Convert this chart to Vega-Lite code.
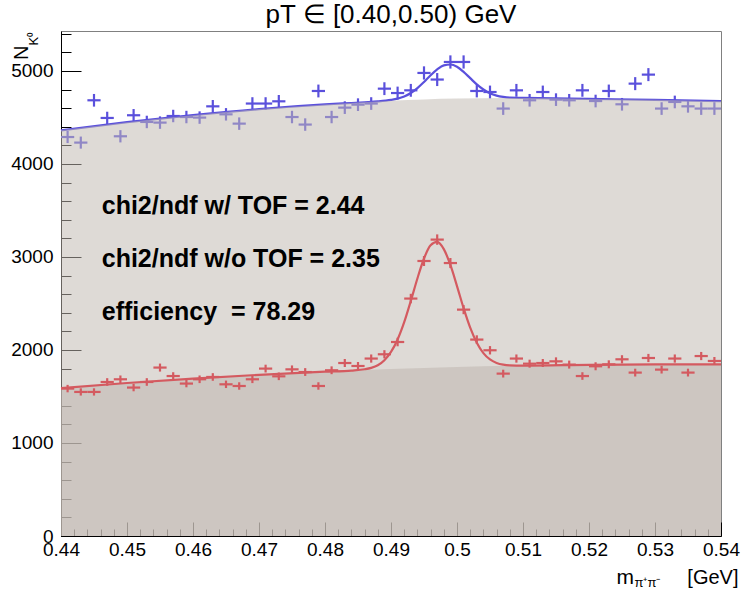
{
  "$schema": "https://vega.github.io/schema/vega-lite/v6.json",
  "width": 660,
  "height": 505,
  "autosize": {"type": "none"},
  "padding": {"left": 61, "top": 31, "right": 20, "bottom": 56},
  "title": {"text": "pT ∈ [0.40,0.50) GeV", "fontSize": 26, "font": "Liberation Sans", "fontWeight": "normal", "anchor": "middle", "baseline": "alphabetic", "offset": 4, "dy": 22, "color": "black"},
  "config": {
    "view": {"stroke": "#808080", "strokeWidth": 1},
    "axis": {"labelFont": "Liberation Sans", "labelFontSize": 19, "labelColor": "black", "tickColor": "black", "domainColor": "black", "grid": false, "titleFont": "Liberation Sans", "titleFontWeight": "normal", "titleColor": "black", "zindex": 0}
  },
  "datasets": {
    "histAll": [
      {"m": 0.441, "lo": 0.440, "hi": 0.442, "n": 4290, "err": 65},
      {"m": 0.443, "lo": 0.442, "hi": 0.444, "n": 4230, "err": 65},
      {"m": 0.445, "lo": 0.444, "hi": 0.446, "n": 4685, "err": 68},
      {"m": 0.447, "lo": 0.446, "hi": 0.448, "n": 4495, "err": 67},
      {"m": 0.449, "lo": 0.448, "hi": 0.450, "n": 4298, "err": 66},
      {"m": 0.451, "lo": 0.450, "hi": 0.452, "n": 4524, "err": 67},
      {"m": 0.453, "lo": 0.452, "hi": 0.454, "n": 4452, "err": 67},
      {"m": 0.455, "lo": 0.454, "hi": 0.456, "n": 4445, "err": 67},
      {"m": 0.457, "lo": 0.456, "hi": 0.458, "n": 4516, "err": 67},
      {"m": 0.459, "lo": 0.458, "hi": 0.460, "n": 4505, "err": 67},
      {"m": 0.461, "lo": 0.460, "hi": 0.462, "n": 4499, "err": 67},
      {"m": 0.463, "lo": 0.462, "hi": 0.464, "n": 4620, "err": 68},
      {"m": 0.465, "lo": 0.464, "hi": 0.466, "n": 4534, "err": 67},
      {"m": 0.467, "lo": 0.466, "hi": 0.468, "n": 4434, "err": 67},
      {"m": 0.469, "lo": 0.468, "hi": 0.470, "n": 4650, "err": 68},
      {"m": 0.471, "lo": 0.470, "hi": 0.472, "n": 4650, "err": 68},
      {"m": 0.473, "lo": 0.472, "hi": 0.474, "n": 4674, "err": 68},
      {"m": 0.475, "lo": 0.474, "hi": 0.476, "n": 4505, "err": 67},
      {"m": 0.477, "lo": 0.476, "hi": 0.478, "n": 4424, "err": 67},
      {"m": 0.479, "lo": 0.478, "hi": 0.480, "n": 4785, "err": 69},
      {"m": 0.481, "lo": 0.480, "hi": 0.482, "n": 4505, "err": 67},
      {"m": 0.483, "lo": 0.482, "hi": 0.484, "n": 4606, "err": 68},
      {"m": 0.485, "lo": 0.484, "hi": 0.486, "n": 4638, "err": 68},
      {"m": 0.487, "lo": 0.486, "hi": 0.488, "n": 4650, "err": 68},
      {"m": 0.489, "lo": 0.488, "hi": 0.490, "n": 4810, "err": 69},
      {"m": 0.491, "lo": 0.490, "hi": 0.492, "n": 4763, "err": 69},
      {"m": 0.493, "lo": 0.492, "hi": 0.494, "n": 4792, "err": 69},
      {"m": 0.495, "lo": 0.494, "hi": 0.496, "n": 4979, "err": 71},
      {"m": 0.497, "lo": 0.496, "hi": 0.498, "n": 4908, "err": 70},
      {"m": 0.499, "lo": 0.498, "hi": 0.500, "n": 5097, "err": 71},
      {"m": 0.501, "lo": 0.500, "hi": 0.502, "n": 5097, "err": 71},
      {"m": 0.503, "lo": 0.502, "hi": 0.504, "n": 4785, "err": 69},
      {"m": 0.505, "lo": 0.504, "hi": 0.506, "n": 4774, "err": 69},
      {"m": 0.507, "lo": 0.506, "hi": 0.508, "n": 4596, "err": 68},
      {"m": 0.509, "lo": 0.508, "hi": 0.510, "n": 4792, "err": 69},
      {"m": 0.511, "lo": 0.510, "hi": 0.512, "n": 4685, "err": 68},
      {"m": 0.513, "lo": 0.512, "hi": 0.514, "n": 4774, "err": 69},
      {"m": 0.515, "lo": 0.514, "hi": 0.516, "n": 4692, "err": 68},
      {"m": 0.517, "lo": 0.516, "hi": 0.518, "n": 4685, "err": 68},
      {"m": 0.519, "lo": 0.518, "hi": 0.520, "n": 4792, "err": 69},
      {"m": 0.521, "lo": 0.520, "hi": 0.522, "n": 4677, "err": 68},
      {"m": 0.523, "lo": 0.522, "hi": 0.524, "n": 4785, "err": 69},
      {"m": 0.525, "lo": 0.524, "hi": 0.526, "n": 4642, "err": 68},
      {"m": 0.527, "lo": 0.526, "hi": 0.528, "n": 4864, "err": 70},
      {"m": 0.529, "lo": 0.528, "hi": 0.530, "n": 4961, "err": 70},
      {"m": 0.531, "lo": 0.530, "hi": 0.532, "n": 4596, "err": 68},
      {"m": 0.533, "lo": 0.532, "hi": 0.534, "n": 4667, "err": 68},
      {"m": 0.535, "lo": 0.534, "hi": 0.536, "n": 4620, "err": 68},
      {"m": 0.537, "lo": 0.536, "hi": 0.538, "n": 4596, "err": 68},
      {"m": 0.539, "lo": 0.538, "hi": 0.540, "n": 4596, "err": 68}
    ],
    "histTof": [
      {"m": 0.441, "lo": 0.440, "hi": 0.442, "n": 1585, "err": 40},
      {"m": 0.443, "lo": 0.442, "hi": 0.444, "n": 1549, "err": 39},
      {"m": 0.445, "lo": 0.444, "hi": 0.446, "n": 1549, "err": 39},
      {"m": 0.447, "lo": 0.446, "hi": 0.448, "n": 1656, "err": 41},
      {"m": 0.449, "lo": 0.448, "hi": 0.450, "n": 1685, "err": 41},
      {"m": 0.451, "lo": 0.450, "hi": 0.452, "n": 1596, "err": 40},
      {"m": 0.453, "lo": 0.452, "hi": 0.454, "n": 1656, "err": 41},
      {"m": 0.455, "lo": 0.454, "hi": 0.456, "n": 1811, "err": 43},
      {"m": 0.457, "lo": 0.456, "hi": 0.458, "n": 1720, "err": 41},
      {"m": 0.459, "lo": 0.458, "hi": 0.460, "n": 1639, "err": 40},
      {"m": 0.461, "lo": 0.460, "hi": 0.462, "n": 1685, "err": 41},
      {"m": 0.463, "lo": 0.462, "hi": 0.464, "n": 1710, "err": 41},
      {"m": 0.465, "lo": 0.464, "hi": 0.466, "n": 1631, "err": 40},
      {"m": 0.467, "lo": 0.466, "hi": 0.468, "n": 1613, "err": 40},
      {"m": 0.469, "lo": 0.468, "hi": 0.470, "n": 1685, "err": 41},
      {"m": 0.471, "lo": 0.470, "hi": 0.472, "n": 1800, "err": 42},
      {"m": 0.473, "lo": 0.472, "hi": 0.474, "n": 1717, "err": 41},
      {"m": 0.475, "lo": 0.474, "hi": 0.476, "n": 1792, "err": 42},
      {"m": 0.477, "lo": 0.476, "hi": 0.478, "n": 1763, "err": 42},
      {"m": 0.479, "lo": 0.478, "hi": 0.480, "n": 1613, "err": 40},
      {"m": 0.481, "lo": 0.480, "hi": 0.482, "n": 1782, "err": 42},
      {"m": 0.483, "lo": 0.482, "hi": 0.484, "n": 1860, "err": 43},
      {"m": 0.485, "lo": 0.484, "hi": 0.486, "n": 1828, "err": 43},
      {"m": 0.487, "lo": 0.486, "hi": 0.488, "n": 1908, "err": 44},
      {"m": 0.489, "lo": 0.488, "hi": 0.490, "n": 1954, "err": 44},
      {"m": 0.491, "lo": 0.490, "hi": 0.492, "n": 2086, "err": 46},
      {"m": 0.493, "lo": 0.492, "hi": 0.494, "n": 2553, "err": 51},
      {"m": 0.495, "lo": 0.494, "hi": 0.496, "n": 2957, "err": 54},
      {"m": 0.497, "lo": 0.496, "hi": 0.498, "n": 3187, "err": 56},
      {"m": 0.499, "lo": 0.498, "hi": 0.500, "n": 2935, "err": 54},
      {"m": 0.501, "lo": 0.500, "hi": 0.502, "n": 2434, "err": 49},
      {"m": 0.503, "lo": 0.502, "hi": 0.504, "n": 2112, "err": 46},
      {"m": 0.505, "lo": 0.504, "hi": 0.506, "n": 1997, "err": 45},
      {"m": 0.507, "lo": 0.506, "hi": 0.508, "n": 1746, "err": 42},
      {"m": 0.509, "lo": 0.508, "hi": 0.510, "n": 1908, "err": 44},
      {"m": 0.511, "lo": 0.510, "hi": 0.512, "n": 1853, "err": 43},
      {"m": 0.513, "lo": 0.512, "hi": 0.514, "n": 1860, "err": 43},
      {"m": 0.515, "lo": 0.514, "hi": 0.516, "n": 1878, "err": 43},
      {"m": 0.517, "lo": 0.516, "hi": 0.518, "n": 1843, "err": 43},
      {"m": 0.519, "lo": 0.518, "hi": 0.520, "n": 1720, "err": 41},
      {"m": 0.521, "lo": 0.520, "hi": 0.522, "n": 1825, "err": 43},
      {"m": 0.523, "lo": 0.522, "hi": 0.524, "n": 1846, "err": 43},
      {"m": 0.525, "lo": 0.524, "hi": 0.526, "n": 1900, "err": 44},
      {"m": 0.527, "lo": 0.526, "hi": 0.528, "n": 1757, "err": 42},
      {"m": 0.529, "lo": 0.528, "hi": 0.530, "n": 1914, "err": 44},
      {"m": 0.531, "lo": 0.530, "hi": 0.532, "n": 1789, "err": 42},
      {"m": 0.533, "lo": 0.532, "hi": 0.534, "n": 1908, "err": 44},
      {"m": 0.535, "lo": 0.534, "hi": 0.536, "n": 1757, "err": 42},
      {"m": 0.537, "lo": 0.536, "hi": 0.538, "n": 1935, "err": 44},
      {"m": 0.539, "lo": 0.538, "hi": 0.540, "n": 1882, "err": 43}
    ],
    "fitAll": [
      {"m": 0.440, "y": 4362}, {"m": 0.450, "y": 4450}, {"m": 0.460, "y": 4525}, {"m": 0.470, "y": 4590},
      {"m": 0.480, "y": 4640}, {"m": 0.484, "y": 4656}, {"m": 0.486, "y": 4664}, {"m": 0.488, "y": 4673},
      {"m": 0.490, "y": 4689}, {"m": 0.491, "y": 4703}, {"m": 0.492, "y": 4726}, {"m": 0.493, "y": 4763},
      {"m": 0.494, "y": 4816}, {"m": 0.495, "y": 4882}, {"m": 0.496, "y": 4954}, {"m": 0.497, "y": 5018},
      {"m": 0.498, "y": 5061}, {"m": 0.499, "y": 5070}, {"m": 0.500, "y": 5046}, {"m": 0.501, "y": 4991},
      {"m": 0.502, "y": 4923}, {"m": 0.503, "y": 4856}, {"m": 0.504, "y": 4801}, {"m": 0.505, "y": 4760},
      {"m": 0.506, "y": 4735}, {"m": 0.507, "y": 4721}, {"m": 0.508, "y": 4714}, {"m": 0.510, "y": 4711},
      {"m": 0.520, "y": 4700}, {"m": 0.530, "y": 4690}, {"m": 0.540, "y": 4675}
    ],
    "bgAll": [
      {"m": 0.440, "y": 4362}, {"m": 0.450, "y": 4450}, {"m": 0.460, "y": 4525}, {"m": 0.470, "y": 4590},
      {"m": 0.480, "y": 4640}, {"m": 0.490, "y": 4680}, {"m": 0.500, "y": 4705}, {"m": 0.510, "y": 4710},
      {"m": 0.520, "y": 4700}, {"m": 0.530, "y": 4690}, {"m": 0.540, "y": 4675}
    ],
    "fitTof": [
      {"m": 0.440, "y": 1591}, {"m": 0.450, "y": 1645}, {"m": 0.460, "y": 1692}, {"m": 0.470, "y": 1733},
      {"m": 0.480, "y": 1767}, {"m": 0.484, "y": 1779}, {"m": 0.486, "y": 1793}, {"m": 0.487, "y": 1808},
      {"m": 0.488, "y": 1836}, {"m": 0.489, "y": 1890}, {"m": 0.490, "y": 1979}, {"m": 0.491, "y": 2113},
      {"m": 0.492, "y": 2299}, {"m": 0.493, "y": 2527}, {"m": 0.494, "y": 2769}, {"m": 0.495, "y": 2984},
      {"m": 0.496, "y": 3126}, {"m": 0.497, "y": 3163}, {"m": 0.498, "y": 3085}, {"m": 0.499, "y": 2914},
      {"m": 0.500, "y": 2687}, {"m": 0.501, "y": 2450}, {"m": 0.502, "y": 2240}, {"m": 0.503, "y": 2078},
      {"m": 0.504, "y": 1967}, {"m": 0.505, "y": 1898}, {"m": 0.506, "y": 1861}, {"m": 0.507, "y": 1842},
      {"m": 0.508, "y": 1835}, {"m": 0.510, "y": 1833}, {"m": 0.520, "y": 1841}, {"m": 0.530, "y": 1845},
      {"m": 0.540, "y": 1846}
    ],
    "bgTof": [
      {"m": 0.440, "y": 1591}, {"m": 0.450, "y": 1645}, {"m": 0.460, "y": 1692}, {"m": 0.470, "y": 1733},
      {"m": 0.480, "y": 1767}, {"m": 0.490, "y": 1795}, {"m": 0.500, "y": 1817}, {"m": 0.510, "y": 1832},
      {"m": 0.520, "y": 1841}, {"m": 0.530, "y": 1845}, {"m": 0.540, "y": 1846}
    ],
    "notes": [
      {"m": 0.44617, "y": 3467, "label": "chi2/ndf w/ TOF = 2.44"},
      {"m": 0.44617, "y": 2892, "label": "chi2/ndf w/o TOF = 2.35"},
      {"m": 0.44617, "y": 2319, "label": "efficiency\u00a0 = 78.29"}
    ]
  },
  "resolve": {"axis": {"x": "independent", "y": "independent"}},
  "layer": [
    {
      "layer": [
        {
          "data": {"name": "fitAll"},
          "mark": {"type": "line", "color": "#5a50dc", "strokeWidth": 2.2, "interpolate": "monotone"},
          "encoding": {
            "x": {"field": "m", "type": "quantitative", "title": "[GeV]", "scale": {"domain": [0.44, 0.54], "nice": false, "zero": false},
                  "axis": {"orient": "bottom", "values": [0.44, 0.45, 0.46, 0.47, 0.48, 0.49, 0.5, 0.51, 0.52, 0.53, 0.54], "format": "~g", "tickSize": -14, "labelPadding": 18, "labelFlush": false, "labelOverlap": false, "title": "[GeV]", "titleFontSize": 20, "titleAlign": "right", "titleAnchor": null, "titleX": 677, "titleY": 47, "titleBaseline": "alphabetic"}},
            "y": {"field": "y", "type": "quantitative", "title": "N", "scale": {"domain": [0, 5430], "nice": false},
                  "axis": {"orient": "left", "values": [0, 1000, 2000, 3000, 4000, 5000], "format": "d", "tickSize": -20, "labelPadding": 28, "labelOverlap": false, "labelFlush": false, "title": "N", "titleFontSize": 20, "titleAngle": -90, "titleAlign": "right", "titleBaseline": "alphabetic", "titleX": -34, "titleY": 14}}
          }
        },
        {
          "data": {"name": "histAll"},
          "mark": {"type": "rule", "color": "#5a50dc", "strokeWidth": 2.2},
          "encoding": {"x": {"field": "lo", "type": "quantitative", "title": "[GeV]"}, "x2": {"field": "hi"}, "y": {"field": "n", "type": "quantitative", "title": "N"}}
        },
        {
          "data": {"name": "histAll"},
          "mark": {"type": "errorbar", "color": "#5a50dc", "thickness": 2.2},
          "encoding": {"x": {"field": "m", "type": "quantitative", "title": "[GeV]"}, "y": {"field": "n", "type": "quantitative", "title": "N"}, "yError": {"field": "err"}}
        },
        {
          "data": {"name": "bgAll"},
          "mark": {"type": "area", "color": "#c1b9b2", "opacity": 0.53, "interpolate": "monotone"},
          "encoding": {"x": {"field": "m", "type": "quantitative", "title": "[GeV]"}, "y": {"field": "y", "type": "quantitative", "title": "N"}}
        },
        {
          "data": {"name": "bgTof"},
          "mark": {"type": "area", "color": "#c1b9b2", "opacity": 0.6, "interpolate": "monotone"},
          "encoding": {"x": {"field": "m", "type": "quantitative", "title": "[GeV]"}, "y": {"field": "y", "type": "quantitative", "title": "N"}}
        },
        {
          "data": {"name": "histTof"},
          "mark": {"type": "rule", "color": "#d45a60", "strokeWidth": 2.2},
          "encoding": {"x": {"field": "lo", "type": "quantitative", "title": "[GeV]"}, "x2": {"field": "hi"}, "y": {"field": "n", "type": "quantitative", "title": "N"}}
        },
        {
          "data": {"name": "histTof"},
          "mark": {"type": "errorbar", "color": "#d45a60", "thickness": 2.2},
          "encoding": {"x": {"field": "m", "type": "quantitative", "title": "[GeV]"}, "y": {"field": "n", "type": "quantitative", "title": "N"}, "yError": {"field": "err"}}
        },
        {
          "data": {"name": "fitTof"},
          "mark": {"type": "line", "color": "#d45a60", "strokeWidth": 2.2, "interpolate": "monotone"},
          "encoding": {"x": {"field": "m", "type": "quantitative", "title": "[GeV]"}, "y": {"field": "y", "type": "quantitative", "title": "N"}}
        },
        {
          "data": {"name": "notes"},
          "mark": {"type": "text", "font": "Liberation Sans", "fontWeight": "bold", "fontSize": 25, "align": "left", "baseline": "alphabetic", "color": "black"},
          "encoding": {"x": {"field": "m", "type": "quantitative", "title": "[GeV]"}, "y": {"field": "y", "type": "quantitative", "title": "N"}, "text": {"field": "label"}}
        }
      ]
    },
    {
      "data": {"name": "bgAll"},
      "mark": {"type": "point", "opacity": 0},
      "encoding": {
        "x": {"field": "m", "type": "quantitative", "scale": {"domain": [0.44, 0.54], "nice": false, "zero": false},
              "axis": {"orient": "bottom", "values": [0.442,0.444,0.446,0.448,0.452,0.454,0.456,0.458,0.462,0.464,0.466,0.468,0.472,0.474,0.476,0.478,0.482,0.484,0.486,0.488,0.492,0.494,0.496,0.498,0.502,0.504,0.506,0.508,0.512,0.514,0.516,0.518,0.522,0.524,0.526,0.528,0.532,0.534,0.536,0.538], "tickSize": -7, "labels": false, "domain": false, "title": "m", "titleFontSize": 21, "titleAlign": "left", "titleAnchor": null, "titleX": 555, "titleY": 47, "titleBaseline": "alphabetic"}},
        "y": {"field": "y", "type": "quantitative", "scale": {"domain": [0, 5430], "nice": false},
              "axis": {"orient": "left", "values": [200,400,600,800,1200,1400,1600,1800,2200,2400,2600,2800,3200,3400,3600,3800,4200,4400,4600,4800,5200,5400], "tickSize": -10, "labels": false, "domain": false, "title": "K⁰", "titleFontSize": 13, "titleAngle": -90, "titleAlign": "left", "titleBaseline": "alphabetic", "titleX": -24, "titleY": 14}}
      }
    },
    {
      "data": {"name": "bgAll"},
      "mark": {"type": "point", "opacity": 0},
      "encoding": {
        "x": {"field": "m", "type": "quantitative", "scale": {"domain": [0.44, 0.54], "nice": false, "zero": false},
              "axis": {"orient": "bottom", "values": [], "ticks": false, "labels": false, "domain": false, "title": "π⁺π⁻", "titleFontSize": 13, "titleAlign": "left", "titleAnchor": null, "titleX": 573, "titleY": 50, "titleBaseline": "alphabetic"}},
        "y": {"field": "y", "type": "quantitative", "scale": {"domain": [0, 5430], "nice": false}, "axis": null}
      }
    }
  ]
}
